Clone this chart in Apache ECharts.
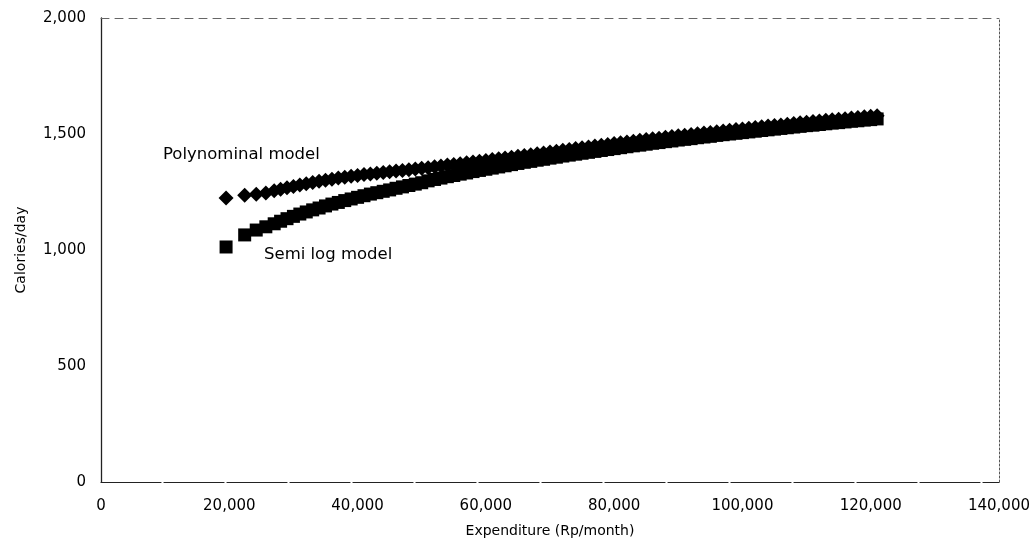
<!DOCTYPE html>
<html>
<head>
<meta charset="utf-8">
<script src="https://cdn.jsdelivr.net/npm/echarts@6/dist/echarts.min.js"></script>
<style>
html,body{margin:0;padding:0;background:#fff;}
#chart{width:1033px;height:551px;}
</style>
</head>
<body>
<div id="chart"></div>
<script>
// Expenditure (Rp/month) of each point
const expenditure = [19500,22400,24200,25700,
27000,28000,29000,30000,31000,32000,33000,34000,35000,36000,
37000,38000,39000,40000,41000,42000,43000,44000,45000,46000,
47000,48000,49000,50000,51000,52000,53000,54000,55000,56000,
57000,58000,59000,60000,61000,62000,63000,64000,65000,66000,
67000,68000,69000,70000,71000,72000,73000,74000,75000,76000,
77000,78000,79000,80000,81000,82000,83000,84000,85000,86000,
87000,88000,89000,90000,91000,92000,93000,94000,95000,96000,
97000,98000,99000,100000,101000,102000,103000,104000,105000,106000,
107000,108000,109000,110000,111000,112000,113000,114000,115000,116000,
117000,118000,119000,120000,121000];

// Calories/day, polynominal model
const polynominal = [1224,1236,1240,1246,
1255,1262,1268,1274,1280,1286,1291,1296,1301,1305,
1310,1314,1318,1321,1325,1328,1331,1334,1337,1340,
1343,1346,1349,1352,1355,1359,1362,1366,1369,1372,
1376,1379,1383,1386,1390,1393,1397,1400,1404,1407,
1411,1415,1418,1422,1426,1430,1433,1437,1441,1444,
1448,1452,1455,1459,1462,1466,1469,1473,1476,1479,
1482,1486,1489,1492,1495,1498,1501,1504,1507,1510,
1513,1516,1519,1522,1525,1528,1531,1534,1537,1539,
1542,1545,1548,1551,1554,1556,1559,1561,1564,1566,
1569,1571,1574,1576,1579];

// Calories/day, semi log model
const semiLog = [1013,1065,1086,1100,
1113,1124,1135,1145,1155,1164,1173,1181,1190,1198,
1205,1213,1220,1227,1234,1241,1247,1253,1259,1266,
1272,1278,1284,1290,1298,1304,1310,1316,1321,1327,
1332,1338,1343,1348,1353,1358,1363,1368,1373,1378,
1382,1387,1391,1396,1400,1405,1409,1413,1417,1421,
1425,1429,1433,1437,1441,1445,1449,1452,1456,1460,
1463,1467,1470,1474,1477,1480,1484,1487,1490,1494,
1497,1500,1503,1506,1509,1512,1515,1518,1521,1524,
1527,1530,1533,1536,1538,1541,1544,1547,1549,1552,
1555,1557,1560,1562,1565];

const xTicks = [0,20000,40000,60000,80000,100000,120000,140000];
const yTicks = [0,500,1000,1500,2000];
const xTitle = 'Expenditure (Rp/month)';
const yTitle = 'Calories/day';
const polyLabel = 'Polynominal model';
const semiLabel = 'Semi log model';

const fmt = v => v.toLocaleString('en-US');
const FONT = '"DejaVu Sans", sans-serif';
const chart = echarts.init(document.getElementById('chart'), null, {renderer:'canvas'});

chart.setOption({
  backgroundColor:'#ffffff',
  animation:false,
  grid:{left:101,right:27,top:18,bottom:69,show:false},
  xAxis:[{
    type:'value', min:xTicks[0], max:xTicks[xTicks.length-1], interval:20000,
    axisLine:{show:true,onZero:false,lineStyle:{color:'#222',width:1.2,type:[60,3]}},
    axisTick:{show:false}, splitLine:{show:false},
    axisLabel:{formatter:fmt,color:'#000',fontFamily:FONT,fontSize:15,margin:17},
    name:xTitle, nameLocation:'middle', nameGap:42,
    nameTextStyle:{color:'#000',fontFamily:FONT,fontSize:14}
  },{
    type:'value', position:'top', min:0, max:140000,
    axisLine:{show:true,onZero:false,lineStyle:{color:'#666',width:1,type:[8,6]}},
    axisTick:{show:false}, axisLabel:{show:false}, splitLine:{show:false}
  }],
  yAxis:[{
    type:'value', min:yTicks[0], max:yTicks[yTicks.length-1], interval:500,
    axisLine:{show:true,onZero:false,lineStyle:{color:'#222',width:1.3}},
    axisTick:{show:false}, splitLine:{show:false},
    axisLabel:{formatter:fmt,color:'#000',fontFamily:FONT,fontSize:15,margin:15},
    name:yTitle, nameLocation:'middle', nameGap:73, nameRotate:90,
    nameTextStyle:{color:'#000',fontFamily:FONT,fontSize:14}
  },{
    type:'value', position:'right', min:0, max:2000,
    axisLine:{show:true,onZero:false,lineStyle:{color:'#555',width:1,type:[2,2]}},
    axisTick:{show:false}, axisLabel:{show:false}, splitLine:{show:false}
  }],
  series:[{
    name:'Semi log model', type:'scatter', symbol:'rect', symbolSize:13,
    itemStyle:{color:'#000',opacity:1},
    data:expenditure.map((x,i)=>[x,semiLog[i]])
  },{
    name:'Polynominal model', type:'scatter', symbol:'diamond', symbolSize:15,
    itemStyle:{color:'#000',opacity:1},
    data:expenditure.map((x,i)=>[x,polynominal[i]])
  }],
  graphic:[
    {type:'text', left:163, top:146, style:{text:polyLabel, fill:'#000', font:'16.5px "DejaVu Sans", sans-serif'}},
    {type:'text', left:264, top:246, style:{text:semiLabel, fill:'#000', font:'16.5px "DejaVu Sans", sans-serif'}}
  ]
});
</script>
</body>
</html>
